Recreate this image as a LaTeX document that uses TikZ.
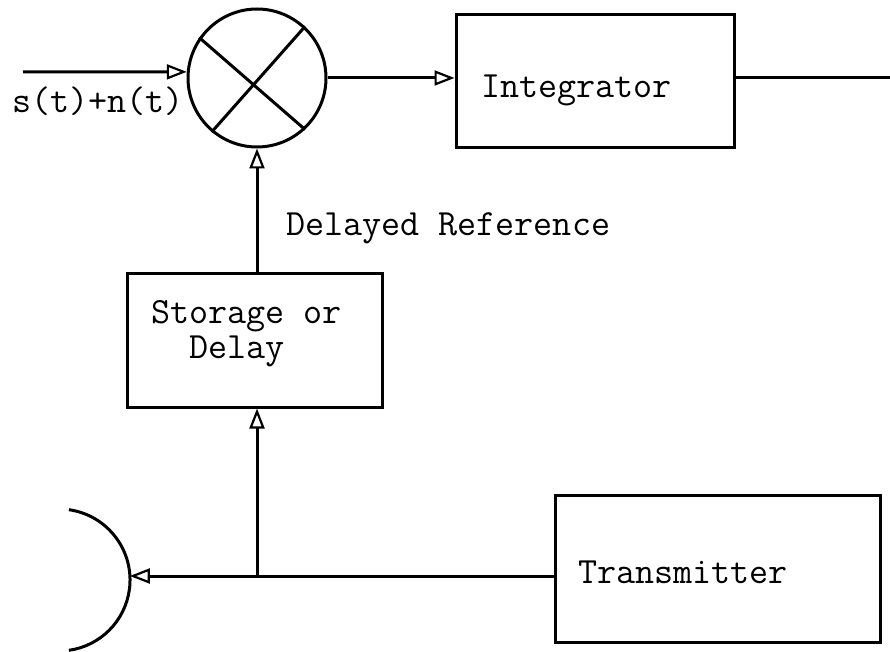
\documentclass[tikz,border=0pt]{standalone}
\usepackage{fontspec}
\usetikzlibrary{arrows.meta}
\begin{document}
\begin{tikzpicture}[x=1pt,y=-1pt,
  wire/.style={line width=3pt},
  tip/.style={-{Triangle[open,length=20pt,width=15pt,line width=2.2pt]}},
  block/.style={draw,line width=3pt,inner sep=0pt},
  lbl/.style={font=\fontsize{37}{35}\selectfont\ttfamily,inner sep=0pt,anchor=base west}]
\useasboundingbox (0,0) rectangle (890,652);

% blocks
\node[block,circle,minimum size=138pt] (mix) at (257,78) {};
\node[block,minimum width=278pt,minimum height=133pt] (integ) at (595,81.5) {};
\node[block,minimum width=255pt,minimum height=134pt] (store) at (254.5,340) {};
\node[block,minimum width=325pt,minimum height=147pt] (tx) at (717.5,568.5) {};

% multiplier cross
\draw[wire] (mix.145) -- (mix.-47);
\draw[wire] (mix.47) -- (mix.230);

% texts
\node[lbl] (integ-t) at (481,98) {Integrator};
\node[lbl] (tx-t) at (578,583) {Transmitter};
\node[lbl,align=left] (store-t) at (151,358) {Storage or\\\phantom{St}Delay};
\node[lbl] (ref-t) at (286,235) {Delayed Reference};
\node[lbl] (in-t) at (12,113) {s(t)+n(t)};

% connectors
\coordinate (in) at (23,72);
\coordinate (out) at (890,78);
\draw[wire,tip] (in) -- (mix.175);
\draw[wire,tip] (mix.east) -- (mix.east -| integ.west);
\draw[wire] (integ.east |- out) -- (out);
\draw[wire,tip] (mix.south |- store.north) -- (mix.south);

\coordinate (txin) at ([yshift=-7.5pt]tx.west);
\coordinate (ant) at (129.9,576);
\coordinate (jn) at (mix.south |- txin);
\draw[wire,tip] (txin) -- (ant);
\draw[wire,tip] (jn) -- (jn |- store.south);

% antenna dish
\draw[wire] (68.9,509.7) arc[start angle=-82,end angle=82,radius=71];
\end{tikzpicture}
\end{document}
